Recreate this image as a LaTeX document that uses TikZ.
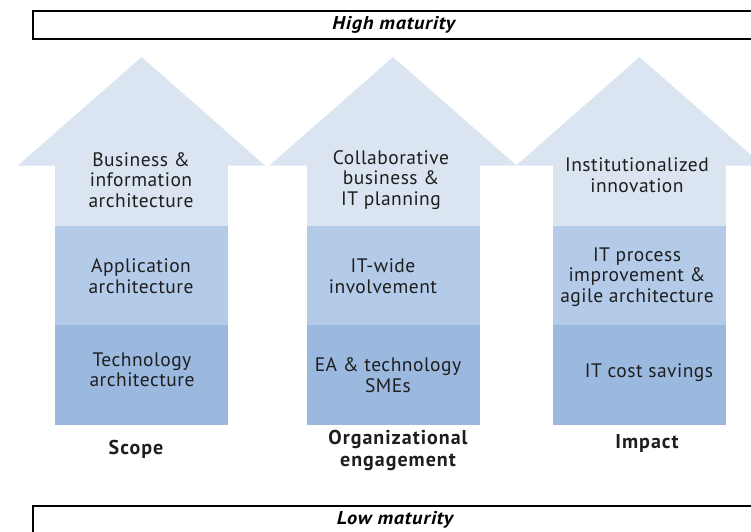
\documentclass[tikz,border=0pt]{standalone}
\usepackage{fontspec}
\setmainfont{PT Sans}
\newfontfamily\tierfont[LetterSpace=2.5]{PT Sans}
\newfontfamily\capfont[LetterSpace=5]{PT Sans}
\newfontfamily\bandfont[FakeStretch=1.1, LetterSpace=4]{PT Sans}
\usepackage{xcolor}
\definecolor{EAlight}{HTML}{DAE5F1}
\definecolor{EAmid}{HTML}{B3CBE9}
\definecolor{EAdark}{HTML}{9BB8DF}
\definecolor{EAtext}{HTML}{1E1E1E}
\usetikzlibrary{positioning, calc}

\begin{document}
\begin{tikzpicture}[
  x=1pt, y=-1pt,
  tier/.style={minimum width=173pt, inner sep=0pt, outer sep=0pt},
  lbl/.style={font=\fontsize{19.5}{20.5}\tierfont, align=center, text=EAtext, inner sep=0pt},
  axis/.style={lbl, font=\fontsize{20}{22}\capfont\bfseries},
  bandtext/.style={font=\fontsize{18.5}{20}\bandfont\bfseries\itshape, inner sep=0pt},
  band/.style={draw=black, line width=1.5pt, fill=white, minimum width=722pt,
    minimum height=28pt, inner sep=0pt, bandtext},
]
\useasboundingbox (0,0) rectangle (751,531);
\clip (0,0) rectangle (751,531);

% Maturity bands
\node[band, anchor=north west] (high) at (32,10) {High maturity};
\node[band, anchor=north west, minimum height=30pt] (low) at (32,505) {};
\node[bandtext] (lowT) at (395,520) {Low maturity};

% Scope column
\node[tier, fill=EAlight, minimum height=61pt] (bus) at (141.5,195.5) {};
\node[tier, fill=EAmid, minimum height=99pt, below=0pt of bus] (app) {};
\node[tier, fill=EAdark, minimum height=100pt, below=0pt of app] (tech) {};
\fill[EAlight] ($(bus.north west)+(-37,0.5)$) -- ($(bus.north)+(0,-108)$)
  -- ($(bus.north east)+(37,0.5)$) -- cycle;

% Engagement column
\node[tier, fill=EAlight, minimum height=61pt] (plan) at (393,195.5) {};
\node[tier, fill=EAmid, minimum height=99pt, below=0pt of plan] (wide) {};
\node[tier, fill=EAdark, minimum height=100pt, below=0pt of wide] (sme) {};
\fill[EAlight] ($(plan.north west)+(-37,0.5)$) -- ($(plan.north)+(0,-108)$)
  -- ($(plan.north east)+(37,0.5)$) -- cycle;

% Impact column
\node[tier, fill=EAlight, minimum height=61pt] (innov) at (639.5,195.5) {};
\node[tier, fill=EAmid, minimum height=99pt, below=0pt of innov] (agile) {};
\node[tier, fill=EAdark, minimum height=100pt, below=0pt of agile] (cost) {};
\fill[EAlight] ($(innov.north west)+(-37,0.5)$) -- ($(innov.north)+(0,-108)$)
  -- ($(innov.north east)+(37,0.5)$) -- cycle;

% Tier labels
\node[lbl] (busT) at (141,180) {Business \&\\information\\architecture};
\node[lbl] (appT) at (141,276) {Application\\architecture};
\node[lbl] (techT) at (142,370) {Technology\\architecture};
\node[lbl] (planT) at (391,180) {Collaborative\\business \&\\IT planning};
\node[lbl] (wideT) at (383,276) {IT-wide\\involvement};
\node[lbl] (smeT) at (388,375) {EA \& technology\\SMEs};
\node[lbl] (innovT) at (637,175) {Institutionalized\\innovation};
\node[lbl] (agileT) at (637,277) {IT process\\improvement \&\\agile architecture};
\node[lbl] (costT) at (649,373) {IT cost savings};

% Column captions
\node[axis] (scope) at (136,449) {Scope};
\node[axis] (engage) at (398,450) {Organizational\\engagement};
\node[axis] (impact) at (647,443) {Impact};
\end{tikzpicture}
\end{document}
